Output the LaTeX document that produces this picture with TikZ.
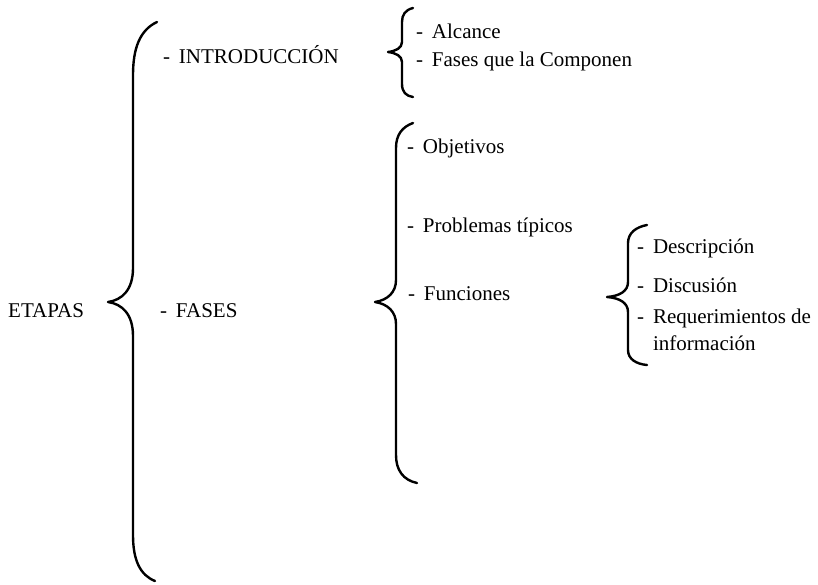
\documentclass[tikz,border=0pt]{standalone}
\usepackage{fontspec}
\setmainfont{Liberation Serif}

\newcommand{\guion}{-\hspace{.42em}}

\tikzset{
  item/.style  = {anchor=base west, inner sep=0pt, font=\fontsize{21}{27}\selectfont},
  llave/.style = {line width=2.4pt, line cap=round, line join=round}
}

\begin{document}
\begin{tikzpicture}[x=1pt, y=-1pt]
  \useasboundingbox (0,0) rectangle (818,584);

  \node[item] (etapas)  at (8,317)   {ETAPAS};
  \node[item] (intro)   at (163,63)  {\guion INTRODUCCIÓN};
  \node[item] (fases)   at (160,317) {\guion FASES};

  \node[item] (alcance) at (416,38)  {\guion Alcance};
  \node[item] (compon)  at (416,66)  {\guion Fases que la Componen};

  \node[item] (objet)   at (407,153) {\guion Objetivos};
  \node[item] (probl)   at (407,232) {\guion Problemas típicos};
  \node[item] (funcs)   at (408,300) {\guion Funciones};

  \node[item] (descr)   at (637,253) {\guion Descripción};
  \node[item] (discu)   at (637,292) {\guion Discusión};
  \node[item] (requer)  at (637,323) {\guion Requerimientos de};
  \node[item] (inform)  at (637,350) {\phantom{\guion}información};

  % ETAPAS
  \draw[llave] (157,22) .. controls (140,30) and (133,48) .. (133,75) -- (133,268)
    .. controls (133,290) and (122,300) .. (108,302)
    .. controls (122,304) and (133,314) .. (133,336) -- (133,535)
    .. controls (133,560) and (140,575) .. (155,581);
  % INTRODUCCION
  \draw[llave] (413,8) .. controls (405,10) and (402,15) .. (402,22) -- (402,42)
    .. controls (402,48) and (396,51) .. (388,52)
    .. controls (396,53) and (402,56) .. (402,62) -- (402,84)
    .. controls (402,92) and (406,96) .. (413,97);
  % FASES
  \draw[llave] (413,123) .. controls (402,127) and (396,135) .. (396,148) -- (396,280)
    .. controls (396,292) and (388,300) .. (375,302)
    .. controls (388,304) and (396,312) .. (396,324) -- (396,455)
    .. controls (396,470) and (403,480) .. (417,483);
  % Funciones
  \draw[llave] (647,225) .. controls (636,227) and (628,233) .. (628,243) -- (628,282)
    .. controls (628,291) and (620,296) .. (607,297)
    .. controls (620,298) and (628,303) .. (628,312) -- (628,350)
    .. controls (628,359) and (636,364) .. (647,365);
\end{tikzpicture}
\end{document}
